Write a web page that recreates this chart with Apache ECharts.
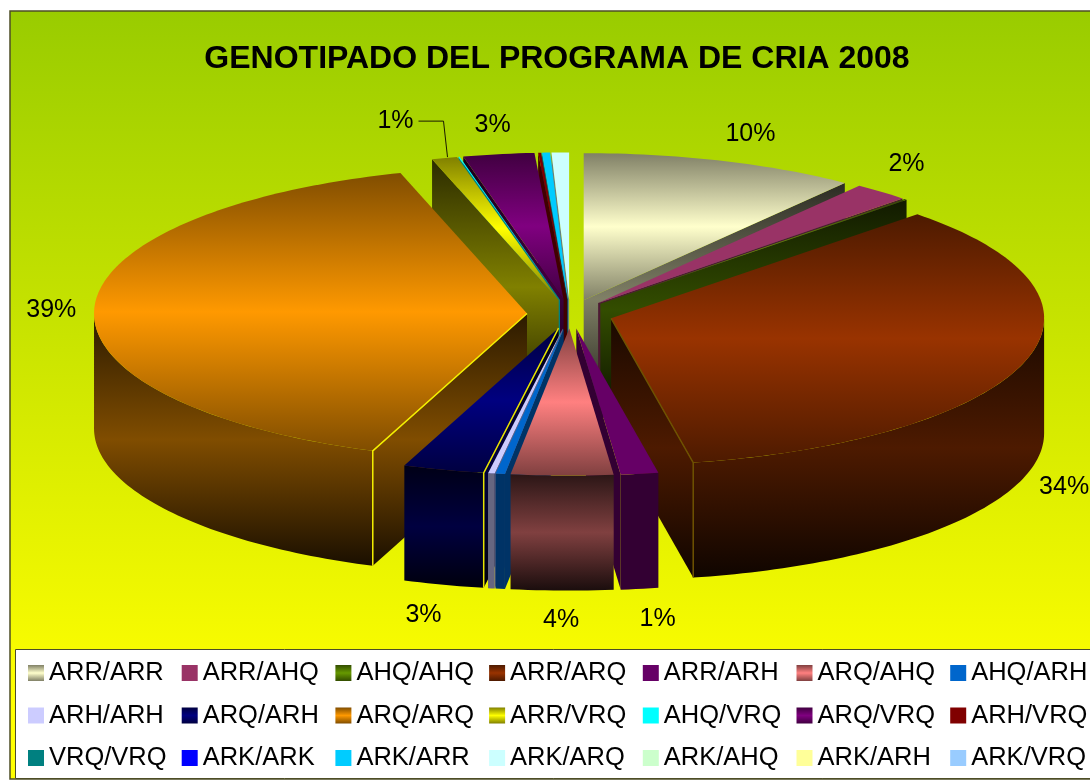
<!DOCTYPE html>
<html>
<head>
<meta charset="utf-8">
<title>Genotipado del programa de cria 2008</title>
<script src="https://cdn.jsdelivr.net/npm/echarts@6/dist/echarts.min.js"></script>
<style>
  html, body { margin: 0; padding: 0; background: #fff; overflow: hidden; }
  #main { width: 1090px; height: 780px; }
</style>
</head>
<body>
<div id="main"></div>
<script>
const chartTitle = 'GENOTIPADO DEL PROGRAMA DE CRIA 2008'
const genotypes = [
  'ARR/ARR', 'ARR/AHQ', 'AHQ/AHQ', 'ARR/ARQ', 'ARR/ARH', 'ARQ/AHQ', 'AHQ/ARH',
  'ARH/ARH', 'ARQ/ARH', 'ARQ/ARQ', 'ARR/VRQ', 'AHQ/VRQ', 'ARQ/VRQ', 'ARH/VRQ',
  'VRQ/VRQ', 'ARK/ARK', 'ARK/ARR', 'ARK/ARQ', 'ARK/AHQ', 'ARK/ARH', 'ARK/VRQ',
]
// percent (slice widths, labels only give whole numbers)
const shares = [
  10.3, 2.1, 0.1, 34.45, 1.4, 3.8, 0.35,
  0.25, 3.03, 39.47, 0.95, 0.05, 2.65, 0.1,
  0.02, 0, 0.3, 0.65, 0, 0, 0,
]
const colors = [
  '#FFFFCC', '#993366', '#669900', '#993300', '#660066', '#FF8080', '#0066CC',
  '#CCCCFF', '#000080', '#FF9900', '#FFFF00', '#00FFFF', '#800080', '#800000',
  '#008080', '#0000FF', '#00CCFF', '#CCFFFF', '#CCFFCC', '#FFFF99', '#99CCFF',
]
// these slices have the banded fill, the others are flat
const banded = ['ARR/ARR', 'AHQ/AHQ', 'ARR/ARQ', 'ARQ/AHQ', 'ARQ/ARH', 'ARQ/ARQ', 'ARR/VRQ', 'ARQ/VRQ']

// projection of the tilted pie
const pie = { cx: 570, cy: 314, rx: 433, ry: 147, depth: 115, explode: 43 }

// label offset from the rim point in the middle of the slice
const labelNudge = {
  'ARR/ARR': [29, -27],
  'ARR/AHQ': [25, -28],
  'ARR/ARQ': [39, 126],
  'ARR/ARH': [18, 145],
  'ARQ/AHQ': [-1, 145],
  'ARQ/ARH': [-20, 145],
  'ARQ/ARQ': [-43, 2],
  'ARR/VRQ': [-49, -37],
  'ARQ/VRQ': [-6, -29],
}
// thin line of background that shows along the cut edge
const seams = { 'ARQ/ARQ': '#f4f000', 'ARQ/ARH': '#e8e400', 'ARR/ARQ': '#6e5200' }

const total = shares.reduce((a, b) => a + b, 0)

function shade(hex, f) {
  const n = parseInt(hex.slice(1), 16)
  const ch = [(n >> 16) & 255, (n >> 8) & 255, n & 255].map((c) => Math.round(c * f))
  return 'rgb(' + ch.join(',') + ')'
}
function bands(hex, a, b, c) {
  return new echarts.graphic.LinearGradient(0, 0, 0, 1, [
    { offset: 0, color: shade(hex, a) },
    { offset: 0.5, color: shade(hex, b) },
    { offset: 1, color: shade(hex, c) },
  ])
}

function sliceShapes(i) {
  if (!shares[i]) return null
  const name = genotypes[i]
  const color = colors[i]
  const isBanded = banded.indexOf(name) >= 0
  const topFill = isBanded ? bands(color, 0.5, 1, 0.5) : color
  const sideFill = isBanded ? bands(color, 0.17, 0.5, 0.1) : shade(color, 0.5)

  const before = shares.slice(0, i).reduce((a, b) => a + b, 0)
  const a0 = (before / total) * Math.PI * 2
  const a1 = ((before + shares[i]) / total) * Math.PI * 2
  const mid = (a0 + a1) / 2
  // every slice is pulled out along its own middle angle
  const ax = pie.cx + pie.explode * Math.sin(mid)
  const ay = pie.cy - (pie.explode * Math.cos(mid) * pie.ry) / pie.rx
  const rim = (a) => [ax + pie.rx * Math.sin(a), ay - pie.ry * Math.cos(a)]
  const down = (p) => [p[0], p[1] + pie.depth]
  const arc = (from, to) => {
    const steps = Math.max(2, Math.ceil((to - from) / 0.02))
    const pts = []
    for (let s = 0; s <= steps; s++) pts.push(rim(from + ((to - from) * s) / steps))
    return pts
  }
  const poly = (points, fill) => ({ type: 'polygon', shape: { points: points }, style: { fill: fill } })
  const apex = [ax, ay]
  const children = []

  // cut faces, only the ones turned to the viewer
  if (Math.sin(a0) < -1e-6) {
    children.push(poly([apex, rim(a0), down(rim(a0)), down(apex)], sideFill))
  }
  if (Math.sin(a1) > 1e-6) {
    children.push(poly([apex, rim(a1), down(rim(a1)), down(apex)], sideFill))
  }
  // outer wall, front half of the ellipse only
  const w0 = Math.max(a0, Math.PI / 2)
  const w1 = Math.min(a1, (Math.PI * 3) / 2)
  if (w1 > w0) {
    const top = arc(w0, w1)
    children.push(poly(top.concat(top.map(down).reverse()), sideFill))
  }
  children.push(poly([apex].concat(arc(a0, a1)), topFill))

  if (seams[name]) {
    const cut = Math.sin(a0) < 0 ? a0 : a1
    children.push({
      type: 'polyline',
      shape: { points: [apex, rim(cut), down(rim(cut))] },
      style: { fill: null, stroke: seams[name], lineWidth: 1.5 },
      z2: 5,
    })
  }

  const nudge = labelNudge[name]
  if (nudge) {
    const m = rim(mid)
    children.push({
      type: 'text',
      style: {
        x: m[0] + nudge[0],
        y: m[1] + nudge[1],
        text: Math.round((shares[i] / total) * 100) + '%',
        font: '25px "Liberation Sans", Arial, sans-serif',
        fill: '#000',
        align: 'center',
        verticalAlign: 'middle',
      },
      z2: 10,
    })
    if (name === 'ARR/VRQ') {
      // only this label has a leader line
      children.push({
        type: 'polyline',
        shape: { points: [[m[0] + 3, m[1] - 1], [m[0] - 1, m[1] - 37], [m[0] - 26, m[1] - 37]] },
        style: { fill: null, stroke: '#1a1a00', lineWidth: 1 },
        z2: 10,
      })
    }
  }
  return { type: 'group', children: children }
}

// paint from the back of the pie to the front
function midAngle(i) {
  const before = shares.slice(0, i).reduce((a, b) => a + b, 0)
  return ((before + shares[i] / 2) / total) * Math.PI * 2
}
const paintOrder = genotypes.map((_, i) => i).sort((a, b) => Math.cos(midAngle(b)) - Math.cos(midAngle(a)))
const series = genotypes.map((name, i) => ({
  name: name,
  type: 'custom',
  coordinateSystem: 'none',
  z: 10 + paintOrder.indexOf(i),
  itemStyle: { color: colors[i] },
  data: [shares[i]],
  renderItem: () => sliceShapes(i),
  silent: true,
}))

// 7 columns of 3, the native legend does not line up columns by itself
const legend = []
for (let col = 0; col < 7; col++) {
  legend.push({
    orient: 'vertical',
    left: 28 + col * 153.7,
    top: 660,
    padding: 0,
    itemWidth: 16,
    itemHeight: 16,
    itemGap: 16.5,
    icon: 'rect',
    selectedMode: false,
    textStyle: { fontFamily: '"Liberation Sans", Arial, sans-serif', fontSize: 25.5, color: '#000' },
    data: [col, col + 7, col + 14].map((k) => ({
      name: genotypes[k],
      itemStyle: banded.indexOf(genotypes[k]) >= 0 ? { color: bands(colors[k], 0.5, 1, 0.5) } : { color: colors[k] },
    })),
  })
}

const mycharts = echarts.init(document.getElementById('main'), null, { renderer: 'canvas' })
mycharts.setOption({
  animation: false,
  backgroundColor: '#fff',
  title: {
    text: chartTitle,
    left: 552,
    top: 38,
    textAlign: 'center',
    textStyle: { fontFamily: '"Liberation Sans", Arial, sans-serif', fontSize: 32, fontWeight: 'bold', color: '#000' },
  },
  graphic: [
    {
      type: 'rect',
      z: 0,
      silent: true,
      shape: { x: 10, y: 11, width: 1095, height: 768 },
      style: {
        fill: new echarts.graphic.LinearGradient(0, 0, 0, 1, [
          { offset: 0, color: '#99CC00' },
          { offset: 0.9, color: '#FFFF00' },
          { offset: 1, color: '#FFFF00' },
        ]),
        stroke: '#4d4d26',
        lineWidth: 1.5,
      },
    },
    {
      type: 'rect',
      z: 1,
      silent: true,
      shape: { x: 15.5, y: 649.5, width: 1090, height: 129 },
      style: { fill: '#fff', stroke: '#4d4d26', lineWidth: 1 },
    },
  ],
  legend: legend,
  series: series,
})
</script>
</body>
</html>
